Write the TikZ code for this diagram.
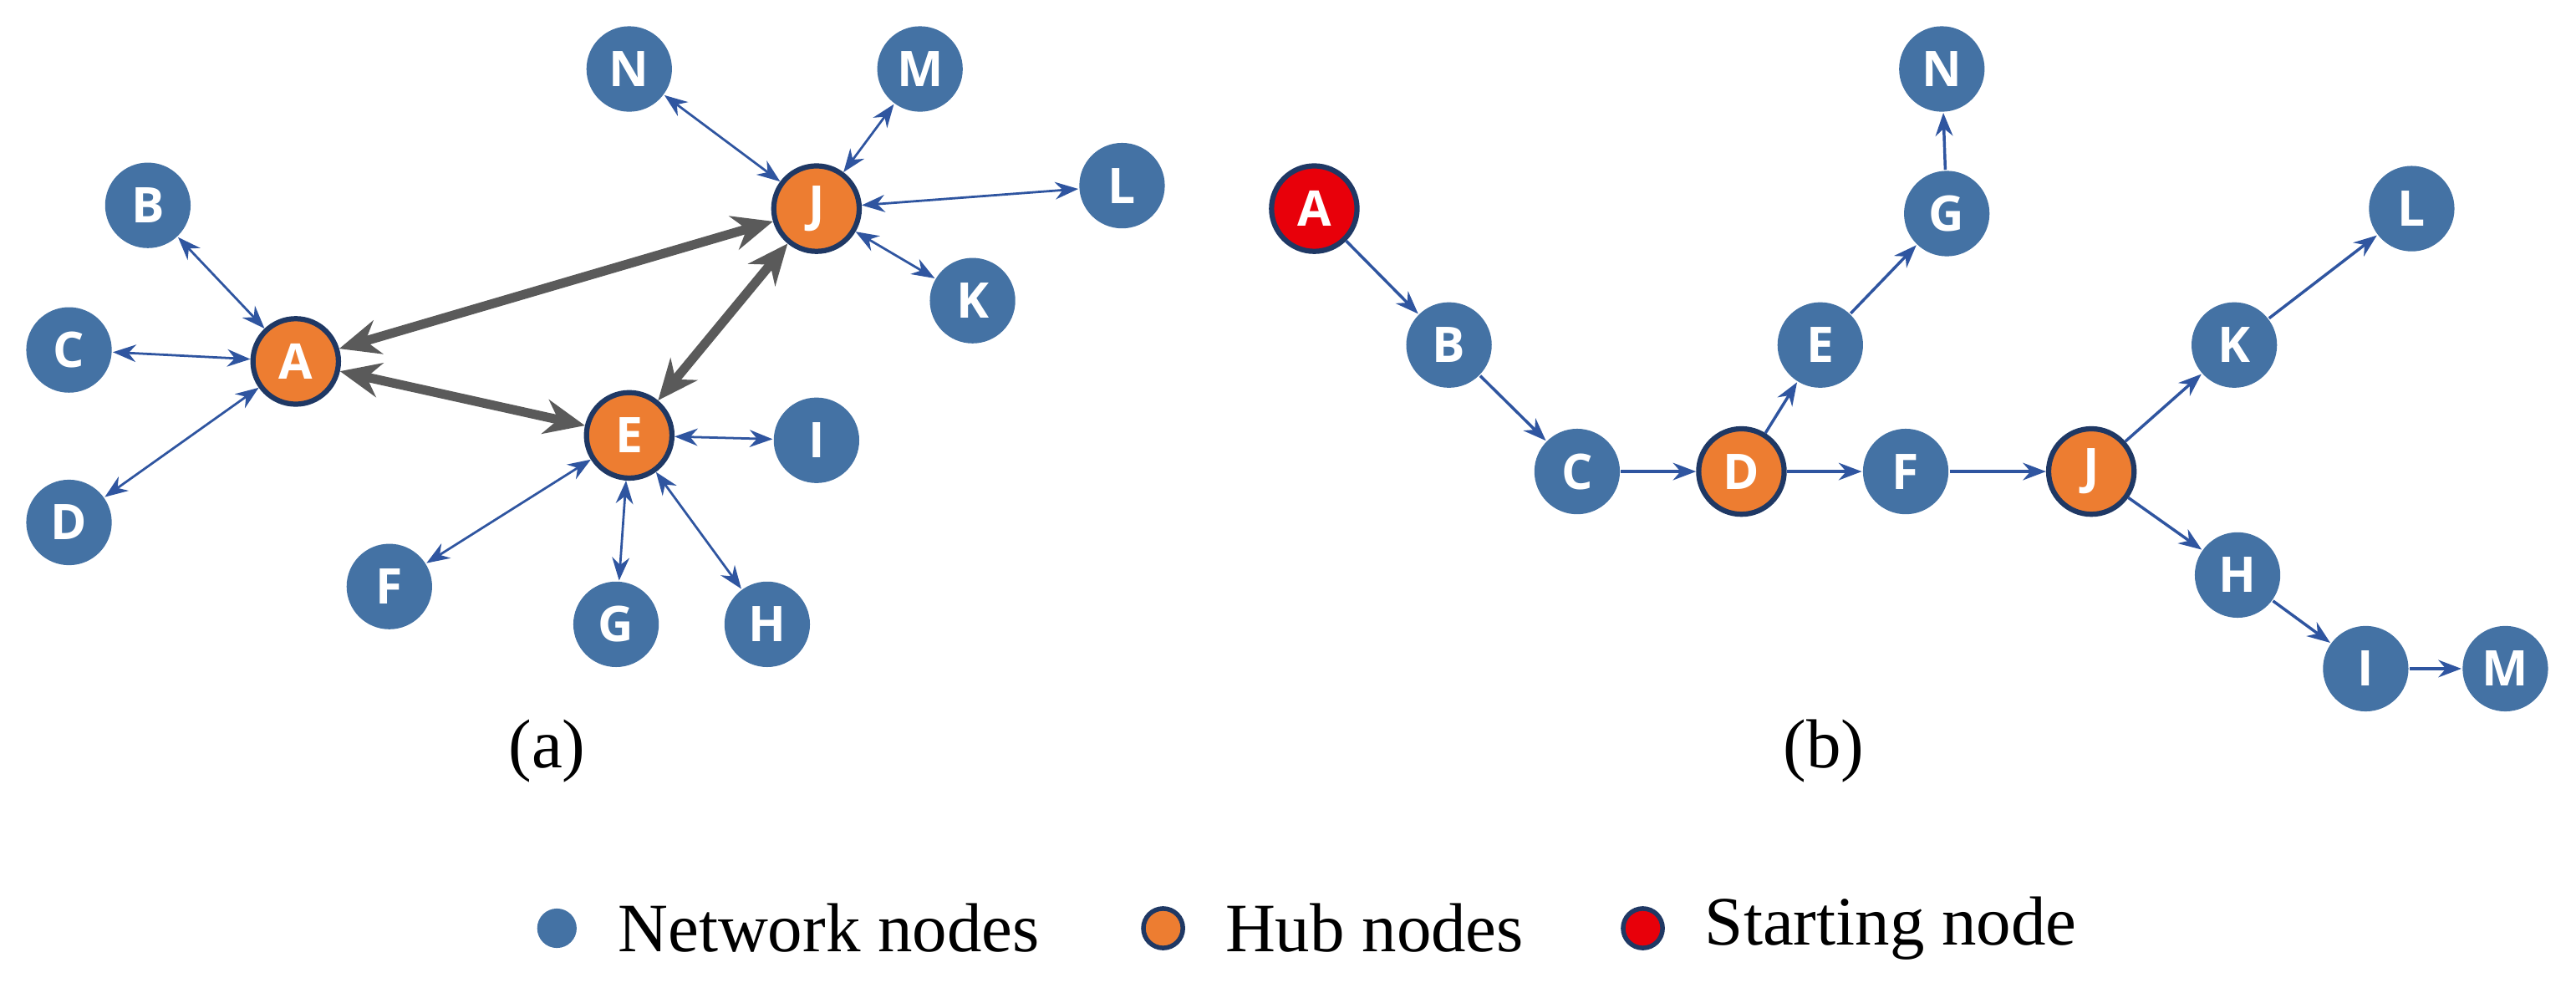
\documentclass[tikz,border=0pt]{standalone}
\usepackage{fontspec}
\setmainfont{Liberation Serif}
\newfontfamily\nodefont{Open Sans}
\usetikzlibrary{arrows.meta, positioning}
\definecolor{netblue}{RGB}{68,114,164}
\definecolor{hubgold}{RGB}{237,125,49}
\definecolor{startred}{RGB}{232,0,10}
\definecolor{rimblue}{RGB}{31,56,100}
\definecolor{linkblue}{RGB}{47,85,160}
\definecolor{hubgray}{RGB}{90,90,90}

\begin{document}
\begin{tikzpicture}[x=0.01cm, y=-0.01cm]
      % Styles
      \tikzset{net/.style={circle, fill=netblue, text=white, minimum size=0.52cm, inner sep=0pt, font=\nodefont\bfseries\fontsize{8.5}{9}\selectfont}}
      \tikzset{hub/.style={net, fill=hubgold, draw=rimblue, line width=0.9pt}}
      \tikzset{start/.style={net, fill=startred, draw=rimblue, line width=0.9pt}}
      \tikzset{link/.style={{Stealth[length=4pt,width=3pt]}-{Stealth[length=4pt,width=3pt]}, linkblue, line width=0.4pt}}
      \tikzset{hublink/.style={{Stealth[length=7pt,width=6pt]}-{Stealth[length=7pt,width=6pt]}, hubgray, line width=1.6pt}}
      \tikzset{walk/.style={-{Stealth[length=4pt,width=3pt]}, linkblue, line width=0.5pt}}
      \tikzset{key/.style={circle, minimum size=0.24cm, inner sep=0pt}}
      \useasboundingbox (0,0) rectangle (1568,598);

      % --- (a) network ---
      \node[hub] (aA) at (180,220) {A};
      \node[hub] (aE) at (383,265) {E};
      \node[hub] (aJ) at (497,127) {J};
      \node[net] (aB) at (90,125) {B};
      \node[net] (aC) at (42,213) {C};
      \node[net] (aD) at (42,318) {D};
      \node[net] (aF) at (237,357) {F};
      \node[net] (aG) at (375,380) {G};
      \node[net] (aH) at (467,380) {H};
      \node[net] (aI) at (497,268) {I};
      \node[net] (aK) at (592,183) {K};
      \node[net] (aL) at (683,113) {L};
      \node[net] (aM) at (560,42) {M};
      \node[net] (aN) at (383,42) {N};
      \foreach \s in {B,C,D} \draw[link] (aA) -- (a\s);
      \foreach \s in {F,G,H,I} \draw[link] (aE) -- (a\s);
      \foreach \s in {K,L,M,N} \draw[link] (aJ) -- (a\s);
      \draw[hublink] (aA) -- (aJ);
      \draw[hublink] (aA) -- (aE);
      \draw[hublink] (aE) -- (aJ);
      \node (capa) at (333,457) {\large (a)};

      % --- (b) path from the starting node ---
      \node[start] (bA) at (800,127) {A};
      \node[net] (bB) at (882,210) {B};
      \node[net] (bC) at (960,287) {C};
      \node[hub] (bD) at (1060,287) {D};
      \node[net] (bE) at (1108,210) {E};
      \node[net] (bG) at (1185,130) {G};
      \node[net] (bN) at (1182,42) {N};
      \node[net] (bF) at (1160,287) {F};
      \node[hub] (bJ) at (1273,287) {J};
      \node[net] (bK) at (1360,210) {K};
      \node[net] (bL) at (1468,127) {L};
      \node[net] (bH) at (1362,350) {H};
      \node[net] (bI) at (1440,407) {I};
      \node[net] (bM) at (1525,407) {M};
      \foreach \u/\v in {A/B, B/C, C/D, D/E, E/G, G/N, D/F, F/J, J/K, K/L, J/H, H/I, I/M}
        \draw[walk] (b\u) -- (b\v);
      \node (capb) at (1110,457) {\large (b)};

      % --- Legend ---
      \node[key, fill=netblue] (keynet) at (339,565) {};
      \node[right=0.12cm of keynet, font=\large] (txtnet) {Network nodes};
      \node[key, fill=hubgold, draw=rimblue, line width=0.8pt] (keyhub) at (708,565) {};
      \node[right=0.12cm of keyhub, font=\large] (txthub) {Hub nodes};
      \node[key, fill=startred, draw=rimblue, line width=0.8pt] (keystart) at (1000,565) {};
      \node[right=0.12cm of keystart, font=\large] (txtstart) {Starting node};
\end{tikzpicture}
\end{document}
